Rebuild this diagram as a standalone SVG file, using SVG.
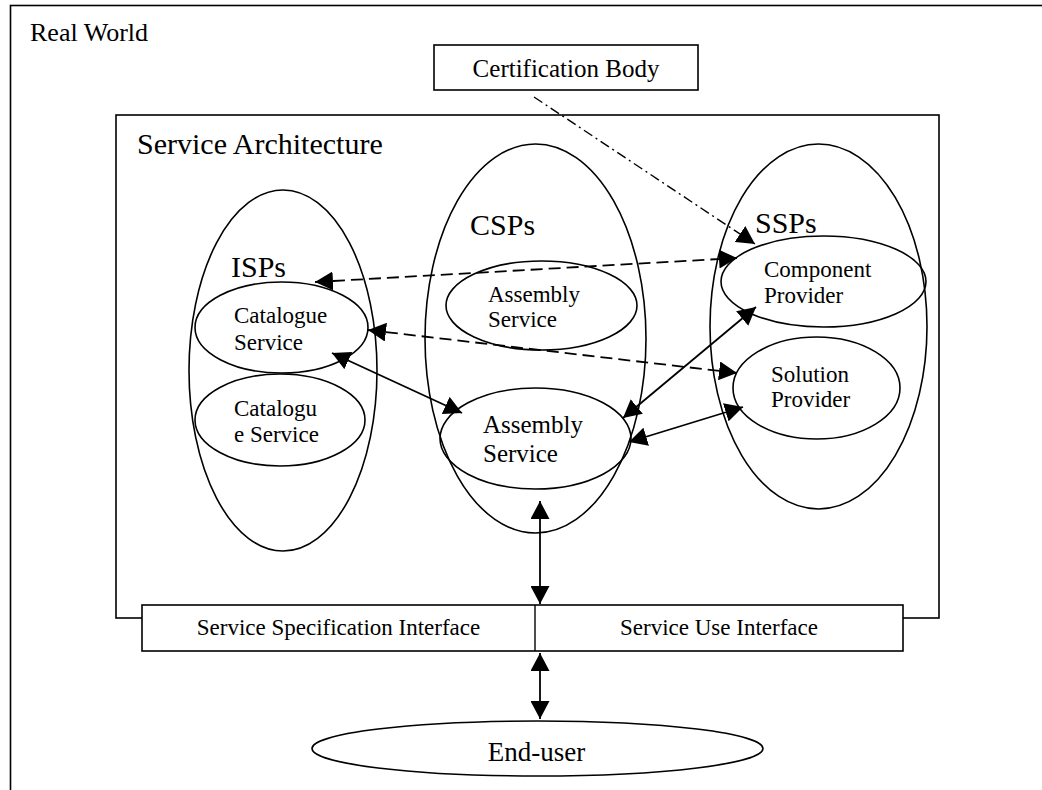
<svg xmlns="http://www.w3.org/2000/svg" width="1042" height="790" viewBox="0 0 1042 790">
<style>
text { font-family: "Liberation Serif", "Times New Roman", serif; fill: #000; }
.sh { fill: none; stroke: #000; stroke-width: 1.6; }
.box { fill: #fff; stroke: #000; stroke-width: 1.6; }
.big { font-size: 30px; }
.lbl { font-size: 23px; }
.conn { stroke: #000; stroke-width: 1.8; fill: none; }
.dash { stroke-dasharray: 12 6; }
.dashdot { stroke-dasharray: 10 4 2 4; stroke-width: 1.4; }
</style>
<defs>
<marker id="ah" viewBox="0 0 18 19" refX="18" refY="9.5" markerWidth="18" markerHeight="19" markerUnits="userSpaceOnUse" orient="auto-start-reverse">
<path d="M0,0 L18,9.5 L0,19 z" fill="#000"/>
</marker>
</defs>
<rect width="1042" height="790" fill="#fff"/>

<g id="real-world">
<rect x="10.5" y="5.5" width="1040" height="800" class="sh"/>
<text x="30" y="41" style="font-size:26px">Real World</text>
</g>

<g id="service-architecture">
<rect x="116" y="115" width="823" height="503" class="sh"/>
<text x="137" y="154" class="big">Service Architecture</text>
</g>

<g id="certification-body">
<rect x="434" y="45" width="264" height="45" class="box"/>
<text x="566" y="77" text-anchor="middle" style="font-size:25px">Certification Body</text>
</g>

<g id="isps">
<ellipse cx="283" cy="370.5" rx="94" ry="180.5" class="sh"/>
<text x="231" y="277" class="big">ISPs</text>
</g>

<g id="catalogue-service-1">
<ellipse cx="281.5" cy="327.5" rx="86.5" ry="45.5" class="sh"/>
<text x="234" y="323" class="lbl">Catalogue</text>
<text x="234" y="350" class="lbl">Service</text>
</g>

<g id="catalogue-service-2">
<ellipse cx="280" cy="420" rx="85" ry="46" class="sh"/>
<text x="234" y="416" class="lbl">Catalogu</text>
<text x="234" y="442" class="lbl">e Service</text>
</g>

<g id="csps">
<ellipse cx="535.5" cy="338.5" rx="110.5" ry="194.5" class="sh"/>
<text x="470" y="235" class="big">CSPs</text>
</g>

<g id="assembly-service-1">
<ellipse cx="541.5" cy="305.5" rx="95.5" ry="44.5" class="sh"/>
<text x="488" y="302" class="lbl">Assembly</text>
<text x="488" y="327" class="lbl">Service</text>
</g>

<g id="assembly-service-2">
<ellipse cx="535.5" cy="438.5" rx="95.5" ry="50.5" class="sh"/>
<text x="483" y="433" style="font-size:25px">Assembly</text>
<text x="483" y="462" style="font-size:25px">Service</text>
</g>

<g id="ssps">
<ellipse cx="818.5" cy="326.5" rx="108.5" ry="182.5" class="sh"/>
<text x="755" y="233" class="big">SSPs</text>
</g>

<g id="component-provider">
<ellipse cx="823.5" cy="281.5" rx="102.5" ry="45.5" class="sh"/>
<text x="764" y="277" class="lbl">Component</text>
<text x="764" y="303" class="lbl">Provider</text>
</g>

<g id="solution-provider">
<ellipse cx="816.5" cy="388" rx="83.5" ry="51" class="sh"/>
<text x="771" y="382" class="lbl">Solution</text>
<text x="771" y="407" class="lbl">Provider</text>
</g>

<g id="interfaces">
<rect x="142" y="605" width="761" height="46" class="box"/>
<line x1="535" y1="605" x2="535" y2="651" stroke="#000" stroke-width="1.4"/>
<text x="338.5" y="635" text-anchor="middle" class="lbl">Service Specification Interface</text>
<text x="719" y="635" text-anchor="middle" class="lbl">Service Use Interface</text>
</g>

<g id="end-user">
<ellipse cx="537.5" cy="748.5" rx="225.5" ry="27.5" class="sh"/>
<text x="536.5" y="761" text-anchor="middle" style="font-size:27px">End-user</text>
</g>

<g id="connectors">
<line x1="534" y1="97" x2="755" y2="244" class="conn dashdot" marker-end="url(#ah)"/>
<line x1="315" y1="282" x2="737" y2="258" class="conn dash" marker-start="url(#ah)" marker-end="url(#ah)"/>
<line x1="368" y1="330" x2="737" y2="373" class="conn dash" marker-start="url(#ah)" marker-end="url(#ah)"/>
<line x1="332" y1="353" x2="462" y2="413" class="conn" marker-start="url(#ah)" marker-end="url(#ah)"/>
<line x1="756" y1="307" x2="623" y2="418" class="conn" marker-start="url(#ah)" marker-end="url(#ah)"/>
<line x1="743" y1="407" x2="629" y2="442" class="conn" marker-start="url(#ah)" marker-end="url(#ah)"/>
<line x1="540" y1="501" x2="540" y2="604" class="conn" marker-start="url(#ah)" marker-end="url(#ah)"/>
<line x1="540" y1="653" x2="540" y2="719" class="conn" marker-start="url(#ah)" marker-end="url(#ah)"/>
</g>
</svg>
